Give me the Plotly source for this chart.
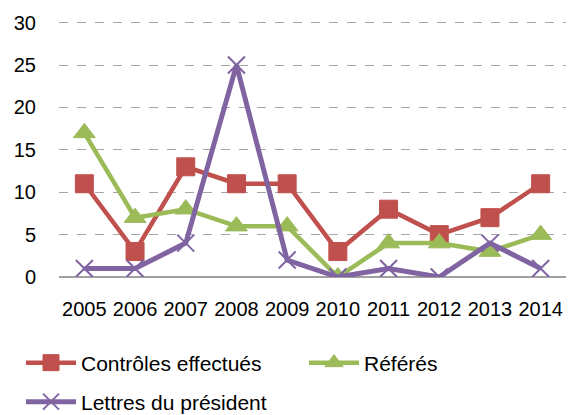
import plotly.graph_objects as go

years = ["2005", "2006", "2007", "2008", "2009", "2010", "2011", "2012", "2013", "2014"]
controles = [11, 3, 13, 11, 11, 3, 8, 5, 7, 11]
referes = [17, 7, 8, 6, 6, 0, 4, 4, 3, 5]
lettres = [1, 1, 4, 25, 2, 0, 1, 0, 4, 1]

RED = "#C0504D"
GREEN = "#9BBB59"
PURPLE = "#8064A2"
FONT = "Liberation Sans, Arial, sans-serif"
W, H = 568, 415

fig = go.Figure()
fig.add_trace(go.Scatter(
    x=years, y=controles, name="Contrôles effectués", mode="lines+markers",
    line=dict(color=RED, width=4.5),
    marker=dict(symbol="square", size=18, color=RED, line=dict(color=RED, width=1)),
    legend="legend",
))
fig.add_trace(go.Scatter(
    x=years, y=referes, name="Référés", mode="lines+markers",
    line=dict(color=GREEN, width=4.5),
    marker=dict(symbol="triangle-up", size=19, color=GREEN, line=dict(color=GREEN, width=1)),
    legend="legend3",
))
fig.add_trace(go.Scatter(
    x=years, y=lettres, name="Lettres du président", mode="lines+markers",
    line=dict(color=PURPLE, width=5),
    marker=dict(symbol="x-thin", size=17, color=PURPLE, line=dict(color=PURPLE, width=2)),
    legend="legend2",
))

def leg(xpx, ypx):
    return dict(
        orientation="h", xref="container", yref="container",
        x=xpx / W, xanchor="left", y=1 - ypx / H, yanchor="middle",
        font=dict(size=21, family=FONT), bgcolor="rgba(0,0,0,0)",
        itemwidth=50,
    )

fig.update_layout(
    width=W, height=H,
    margin=dict(l=59, r=2, t=21, b=138, autoexpand=False),
    paper_bgcolor="white", plot_bgcolor="white",
    font=dict(family=FONT, size=20, color="black"),
    showlegend=True,
    hovermode=False,
    legend=leg(21, 363),
    legend2=leg(21, 402),
    legend3=leg(304, 363),
    xaxis=dict(
        type="category", range=[-0.5, 9.5], showgrid=False, showline=False,
        ticks="", ticklabelstandoff=18, tickfont=dict(size=20, family=FONT),
        fixedrange=True, automargin=False,
    ),
    yaxis=dict(
        range=[0, 30.2], dtick=5, showgrid=True, gridcolor="#A6A6A6", griddash="dash",
        gridwidth=1, zeroline=True, zerolinecolor="#A0A0A0", zerolinewidth=2,
        showline=False, ticks="", ticklabelstandoff=22,
        tickfont=dict(size=20, family=FONT), fixedrange=True, automargin=False,
    ),
)

fig.write_html("out.html", config={"displayModeBar": False},
               post_script="document.body.style.margin='0';")
